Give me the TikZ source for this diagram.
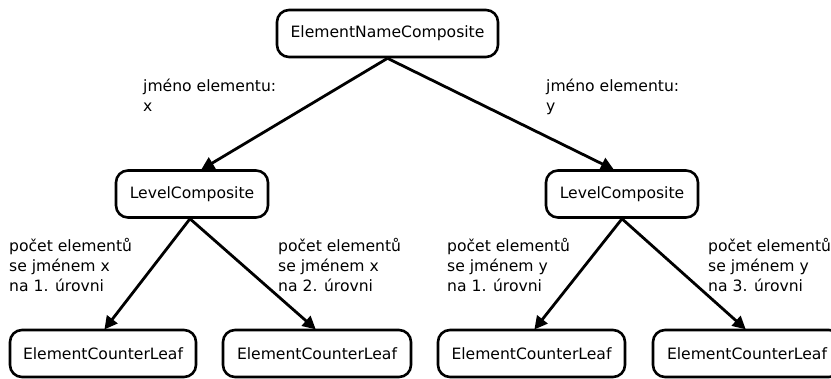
\documentclass[tikz,border=0pt]{standalone}
\usepackage{fontspec}
\setmainfont{DejaVu Sans}
\usetikzlibrary{arrows.meta,calc}
\newcommand{\lines}[1]{\begin{tabular}[t]{@{}l@{}}#1\end{tabular}}
\begin{document}
\begin{tikzpicture}[x=1pt,y=-1pt,
  box/.style={draw, line width=2.6pt, rounded corners=12pt, inner sep=0pt,
    minimum height=47pt, font=\fontsize{15.6}{20}\selectfont},
  lbl/.style={anchor=base west, inner sep=0pt,
    font=\fontsize{15.6}{20}\selectfont},
  conn/.style={line width=2.8pt, -{Triangle[length=13pt,width=13pt]}, shorten >=-1pt}
]
\clip (0,0) rectangle (831,379);
\useasboundingbox (0,0) rectangle (831,379);
\node[box, minimum width=221pt] (top) at (387.5,33.5) {ElementNameComposite};
\node[box, minimum width=152pt] (lv1) at (192,194) {LevelComposite};
\node[box, minimum width=152pt] (lv2) at (622,194) {LevelComposite};
\node[box, minimum width=186pt] (l1) at (103,353.5) {ElementCounterLeaf};
\node[box, minimum width=188pt] (l2) at (317,353.5) {ElementCounterLeaf};
\node[box, minimum width=187pt] (l3) at (531.5,353.5) {ElementCounterLeaf};
\node[box, minimum width=188pt] (l4) at (747,353.5) {ElementCounterLeaf};

\draw[conn] (top.south) -- ($(lv1.north)+(10,0)$);
\draw[conn] (top.south) -- ($(lv2.north)+(-9,0)$);
\draw[conn] ($(lv1.south)+(-2,0)$) -- ($(l1.north)+(2,0)$);
\draw[conn] ($(lv1.south)+(-2,0)$) -- ($(l2.north)+(-2,0)$);
\draw[conn] (lv2.south) -- ($(l3.north)+(3.5,0)$);
\draw[conn] (lv2.south) -- ($(l4.north)+(-2,0)$);

\node[lbl] (t1) at (143,92) {\lines{jméno elementu:\\x}};
\node[lbl] (t2) at (546,92) {\lines{jméno elementu:\\y}};
\node[lbl] (t3) at (9,252) {\lines{počet elementů\\se jménem x\\na 1. úrovni}};
\node[lbl] (t4) at (278,252) {\lines{počet elementů\\se jménem x\\na 2. úrovni}};
\node[lbl] (t5) at (447,252) {\lines{počet elementů\\se jménem y\\na 1. úrovni}};
\node[lbl] (t6) at (708,252) {\lines{počet elementů\\se jménem y\\na 3. úrovni}};
\end{tikzpicture}
\end{document}
